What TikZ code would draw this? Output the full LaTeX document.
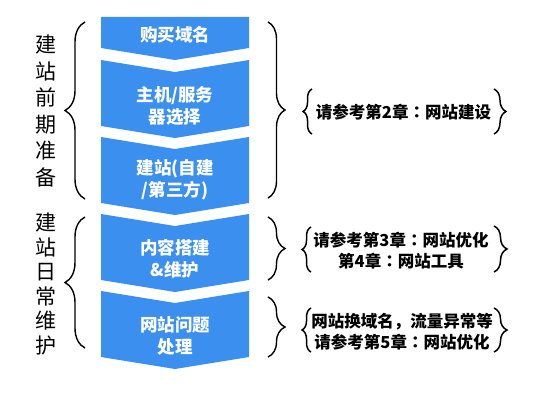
\documentclass[tikz,border=0pt]{standalone}
\usepackage{fontspec}
\newfontfamily\cjk{Noto Sans CJK SC}
\newfontfamily\cjktc{Noto Sans CJK TC}
\newcommand{\ccolon}{{\cjktc\bfseries ：}}
\usetikzlibrary{decorations.pathreplacing}
\definecolor{chevblue}{RGB}{59,143,238}
\tikzset{
  chev/.style={fill=chevblue,draw=none},
  chevtext/.style={text=white,font=\cjk\bfseries\fontsize{17.5}{22}\selectfont,align=center,inner sep=0pt},
  sidetext/.style={text=black,font=\cjk\fontsize{21}{26.5}\selectfont,align=center,inner sep=0pt},
  sidetextb/.style={text=black,font=\cjk\fontsize{21}{24.5}\selectfont,align=center,inner sep=0pt},
  reftext/.style={text=black,font=\cjk\bfseries\fontsize{16.5}{21}\selectfont,align=center,inner sep=0pt},
  bigbrace/.style={draw=black,line width=1.4pt,decorate,decoration={brace,amplitude=#1,aspect=0.5}},
  smallbrace/.style={draw=black,line width=1.5pt,decorate,decoration={brace,amplitude=#1,aspect=0.5}}
}
\begin{document}
\begin{tikzpicture}[x=1pt,y=-1pt]
\useasboundingbox[fill=white] (0,0) rectangle (545,393);
% chevrons
\fill[chev] (101,17) -- (249,17) -- (249,48) -- (175,60) -- (101,48) -- cycle;
\foreach \T in {60,137,214,291}{
  \fill[chev] (101,\T) -- (175,\T+12) -- (249,\T) -- (249,\T+66) -- (175,\T+78) -- (101,\T+66) -- cycle;
}
\node[chevtext] (c1) at (175,35) {购买域名};
\node[chevtext] (c2) at (175,106) {主机/服务\\器选择};
\node[chevtext] (c3) at (175,180) {建站(自建\\/第三方)};
\node[chevtext] (c4) at (175,259) {内容搭建\\\&维护};
\node[chevtext] (c5) at (175,336) {网站问题\\处理};
% left labels
\node[sidetext] (l1) at (46,111) {建\\站\\前\\期\\准\\备};
\node[sidetextb] (l2) at (46,284) {建\\站\\日\\常\\维\\护};
% left braces
\coordinate (lb1a) at (85,199); \coordinate (lb1b) at (85,22);
\coordinate (lb2a) at (85,348); \coordinate (lb2b) at (85,217);
\draw[bigbrace=20pt] (lb1a) -- (lb1b);
\draw[bigbrace=20pt] (lb2a) -- (lb2b);
% right big braces
\coordinate (rb1a) at (268,22); \coordinate (rb1b) at (268,198);
\coordinate (rb2a) at (268,217); \coordinate (rb2b) at (268,280);
\coordinate (rb3a) at (268,297); \coordinate (rb3b) at (268,357);
\draw[bigbrace=17pt] (rb1a) -- (rb1b);
\draw[bigbrace=17pt] (rb2a) -- (rb2b);
\draw[bigbrace=17pt] (rb3a) -- (rb3b);
% reference texts
\node[reftext] (r1) at (403.5,112) {请参考第2章\ccolon 网站建设};
\node[reftext] (r2) at (401,251) {请参考第3章\ccolon 网站优化\\第4章\ccolon 网站工具};
\node[reftext] (r3) at (402,332) {网站换域名，流量异常等\\请参考第5章\ccolon 网站优化};
% small braces
\draw[smallbrace=9pt] (312,134) -- (312,89);
\draw[smallbrace=12pt] (494,89) -- (494,134);
\draw[smallbrace=9pt] (311,272) -- (311,227);
\draw[smallbrace=13pt] (494,226) -- (494,272);
\draw[smallbrace=9pt] (311,352) -- (311,308);
\draw[smallbrace=13pt] (494,308) -- (494,352);
\end{tikzpicture}
\end{document}
